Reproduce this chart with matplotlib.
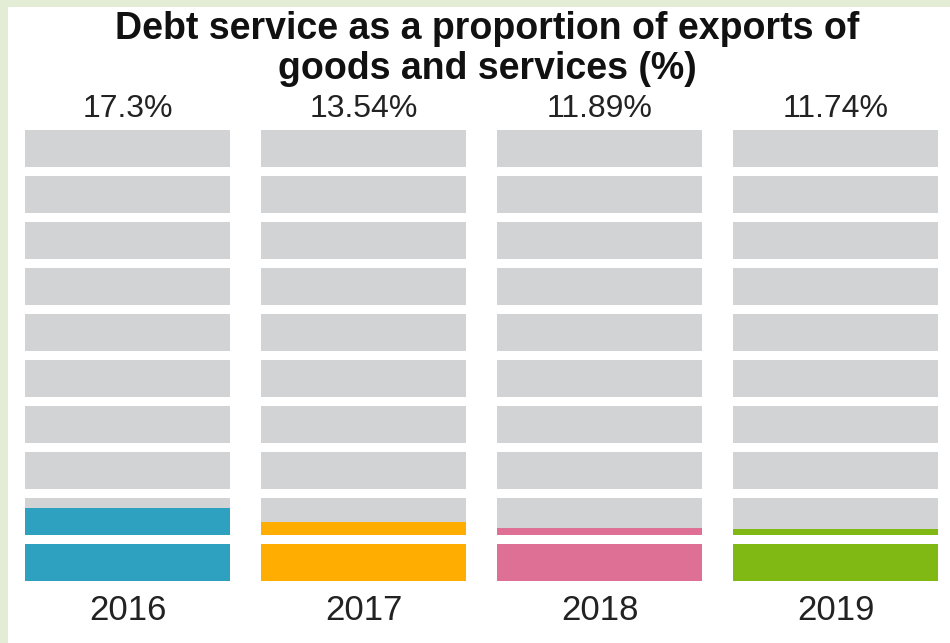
import matplotlib
matplotlib.use("Agg")
import matplotlib.pyplot as plt
from matplotlib.patches import Rectangle
import numpy as np

plt.rcParams['font.family'] = ['Liberation Sans', 'DejaVu Sans']

title = "Debt service as a proportion of exports of\ngoods and services (%)"
years = ["2016", "2017", "2018", "2019"]
values = [17.3, 13.54, 11.89, 11.74]
labels = ["17.3%", "13.54%", "11.89%", "11.74%"]
colors = ["#2ea1c0", "#ffad00", "#dd7094", "#80b814"]
grey = "#d1d3d4"
n_segments = 10
seg_value = 10.0

W, H = 950, 643
fig = plt.figure(figsize=(W / 100, H / 100), dpi=100, facecolor="#e3ecd5")

# white panel
fig.patches.append(Rectangle((8 / W, 0), 1 - 8 / W, 1 - 7 / H, transform=fig.transFigure,
                             facecolor="white", edgecolor="none", zorder=-5))

# axes in pixel placement
left_px, right_px, top_px, bottom_px = 25, 938, 130, 581
ax = fig.add_axes([left_px / W, 1 - bottom_px / H, (right_px - left_px) / W,
                   (bottom_px - top_px) / H])
ax.set_zorder(2)
ax.set_axis_off()

bar_w = 0.868
seg_h = 0.8 * seg_value
for i, (v, c) in enumerate(zip(values, colors)):
    for k in range(n_segments):
        y0 = k * seg_value
        ax.bar(i, seg_h, bottom=y0, width=bar_w, color=grey, linewidth=0)
        fill = min(max(v - y0, 0), seg_value) / seg_value
        if fill > 0:
            ax.bar(i, seg_h * fill, bottom=y0, width=bar_w, color=c, linewidth=0)

ax.set_xlim(-bar_w / 2, len(values) - 1 + bar_w / 2)
ax.set_ylim(0, (n_segments - 1) * seg_value + seg_h)

for i, (lab, yr) in enumerate(zip(labels, years)):
    ax.annotate(lab, xy=(i, 1), xycoords=("data", "axes fraction"),
                xytext=(0, 21), textcoords="offset pixels",
                ha="center", va="center", fontsize=23, color="#222222")
    ax.annotate(yr, xy=(i, 0), xycoords=("data", "axes fraction"),
                xytext=(0, -30), textcoords="offset pixels",
                ha="center", va="center", fontsize=25, color="#222222")

fig.text(487 / W, 1 - 49 / H, title, ha="center", va="center", fontsize=27,
         fontweight="bold", color="#111111", linespacing=1.15, zorder=3)

fig.savefig("out.png", dpi=100, facecolor=fig.get_facecolor())
